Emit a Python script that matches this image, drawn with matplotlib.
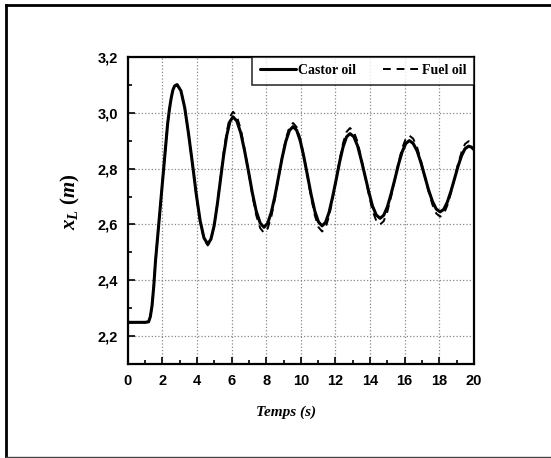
import matplotlib
matplotlib.use("Agg")
import matplotlib.pyplot as plt
from matplotlib.lines import Line2D
from matplotlib.ticker import MultipleLocator, FuncFormatter

# ------------------------------------------------------------
# Data (time in s, x_L in m)
# ------------------------------------------------------------
t = [0.0, 1.0, 1.2, 1.3, 1.4, 1.5, 1.6, 1.7, 1.8, 1.9, 2.0, 2.1, 2.2, 2.3,
     2.4, 2.5, 2.6, 2.7, 2.8,
     2.85, 3.07, 3.29, 3.51, 3.74, 3.96, 4.18, 4.40,
     4.62, 4.80, 4.99, 5.17, 5.35, 5.53, 5.72, 5.90,
     6.08, 6.30, 6.53, 6.75, 6.98, 7.20, 7.42, 7.65,
     7.87, 8.08, 8.29, 8.50, 8.71, 8.92, 9.13, 9.34,
     9.55, 9.76, 9.97, 10.18, 10.39, 10.60, 10.81, 11.02,
     11.23, 11.43, 11.63, 11.83, 12.04, 12.24, 12.44, 12.64,
     12.84, 13.06, 13.28, 13.49, 13.71, 13.93, 14.14, 14.36,
     14.58, 14.79, 15.00, 15.21, 15.43, 15.64, 15.85, 16.06,
     16.27, 16.49, 16.72, 16.94, 17.16, 17.38, 17.61, 17.83,
     18.05, 18.26, 18.46, 18.67, 18.88, 19.08, 19.29, 19.49,
     19.70, 19.85, 20.0]

castor = [2.25, 2.25, 2.252, 2.27, 2.31, 2.38, 2.47, 2.54, 2.61, 2.68, 2.75,
          2.82, 2.89, 2.96, 3.01, 3.05, 3.08, 3.095, 3.099,
          3.100, 3.078, 3.017, 2.924, 2.815, 2.706, 2.613, 2.552,
          2.530, 2.547, 2.596, 2.671, 2.758, 2.844, 2.919, 2.968,
          2.985, 2.970, 2.927, 2.863, 2.788, 2.712, 2.648, 2.605,
          2.590, 2.604, 2.643, 2.701, 2.770, 2.839, 2.897, 2.936,
          2.950, 2.937, 2.898, 2.840, 2.773, 2.705, 2.647, 2.609,
          2.595, 2.608, 2.643, 2.697, 2.760, 2.823, 2.877, 2.913,
          2.925, 2.914, 2.881, 2.831, 2.774, 2.716, 2.666, 2.634,
          2.622, 2.633, 2.663, 2.708, 2.761, 2.814, 2.859, 2.889,
          2.900, 2.890, 2.863, 2.821, 2.773, 2.724, 2.682, 2.655,
          2.645, 2.654, 2.679, 2.718, 2.763, 2.807, 2.846, 2.871,
          2.880, 2.877, 2.868]

fuel = [2.25, 2.25, 2.252, 2.27, 2.31, 2.38, 2.47, 2.54, 2.61, 2.68, 2.75,
        2.82, 2.89, 2.96, 3.01, 3.05, 3.08, 3.095, 3.099,
        3.100, 3.078, 3.016, 2.922, 2.813, 2.703, 2.609, 2.547,
        2.525, 2.543, 2.595, 2.673, 2.764, 2.855, 2.933, 2.985,
        3.003, 2.987, 2.940, 2.869, 2.787, 2.704, 2.633, 2.587,
        2.570, 2.585, 2.627, 2.691, 2.767, 2.842, 2.906, 2.948,
        2.963, 2.948, 2.906, 2.843, 2.769, 2.695, 2.632, 2.590,
        2.575, 2.589, 2.629, 2.689, 2.760, 2.831, 2.891, 2.931,
        2.945, 2.932, 2.895, 2.838, 2.773, 2.707, 2.650, 2.613,
        2.600, 2.612, 2.646, 2.698, 2.759, 2.820, 2.872, 2.906,
        2.918, 2.907, 2.876, 2.828, 2.773, 2.718, 2.670, 2.639,
        2.628, 2.638, 2.667, 2.711, 2.763, 2.815, 2.859, 2.888,
        2.898, 2.894, 2.882]

xticks = [0, 2, 4, 6, 8, 10, 12, 14, 16, 18, 20]
yticks = [2.2, 2.4, 2.6, 2.8, 3.0, 3.2]

# ------------------------------------------------------------
# Style
# ------------------------------------------------------------
plt.rcParams['font.family'] = ['Liberation Sans', 'DejaVu Sans']
plt.rcParams['mathtext.fontset'] = 'custom'
plt.rcParams['mathtext.rm'] = 'Liberation Serif:bold'
plt.rcParams['mathtext.it'] = 'Liberation Serif:italic:bold'
plt.rcParams['mathtext.bf'] = 'Liberation Serif:bold'

fig = plt.figure(figsize=(5.51, 4.58), dpi=100)
ax = fig.add_axes([0.232, 0.2046, 0.628, 0.6716])

ax.plot(t, castor, color='black', lw=2.2, solid_capstyle='round',
        solid_joinstyle='round', label='Castor oil', zorder=3)
ax.plot(t, fuel, color='black', lw=1.4, ls=(0, (4, 3)),
        label='Fuel oil', zorder=4)

ax.set_xlim(0, 20)
ax.set_ylim(2.1, 3.2)
ax.set_xticks(xticks)
ax.set_yticks(yticks)
ax.xaxis.set_minor_locator(MultipleLocator(1))
ax.yaxis.set_minor_locator(MultipleLocator(0.1))
ax.yaxis.set_major_formatter(FuncFormatter(lambda v, p: f"{v:.1f}".replace('.', ',')))
ax.xaxis.set_major_formatter(FuncFormatter(lambda v, p: f"{v:.0f}"))

ax.tick_params(which='both', direction='in', top=False, right=False,
               width=1.2, labelsize=10.5)
ax.tick_params(which='major', length=5, pad=7)
ax.tick_params(which='minor', length=3)
for lab in ax.get_xticklabels() + ax.get_yticklabels():
    lab.set_fontweight('bold')

for sp in ax.spines.values():
    sp.set_linewidth(1.6)

ax.grid(True, which='major', ls=':', color='#888888', lw=0.9)

ax.set_xlabel('Temps (s)', family='Liberation Serif', fontweight='bold',
              style='italic', fontsize=11)
ax.xaxis.set_label_coords(0.457, -0.135)
ax.set_ylabel(r'$x_L\ (m)$', fontsize=15)
ax.yaxis.set_label_coords(-0.133, 0.53)

leg = ax.legend(loc='upper right', ncol=2, frameon=True, fancybox=False,
                borderaxespad=0.0, handlelength=2.6, handletextpad=0.2,
                columnspacing=1.9, borderpad=0.55,
                prop={'family': 'Liberation Serif', 'weight': 'bold', 'size': 10})
leg.get_frame().set_edgecolor('black')
leg.get_frame().set_linewidth(1.2)

# outer frame of the picture (right edge cut off)
fig.add_artist(Line2D([0.0115, 0.0115], [0.003, 0.9885], color='black', lw=2.0,
                      transform=fig.transFigure))
fig.add_artist(Line2D([0.0115, 1.0], [0.9885, 0.9885], color='black', lw=2.0,
                      transform=fig.transFigure))
fig.add_artist(Line2D([0.0115, 1.0], [0.003, 0.003], color='#444444', lw=1.0,
                      transform=fig.transFigure))

fig.savefig('out.png', dpi=100)
